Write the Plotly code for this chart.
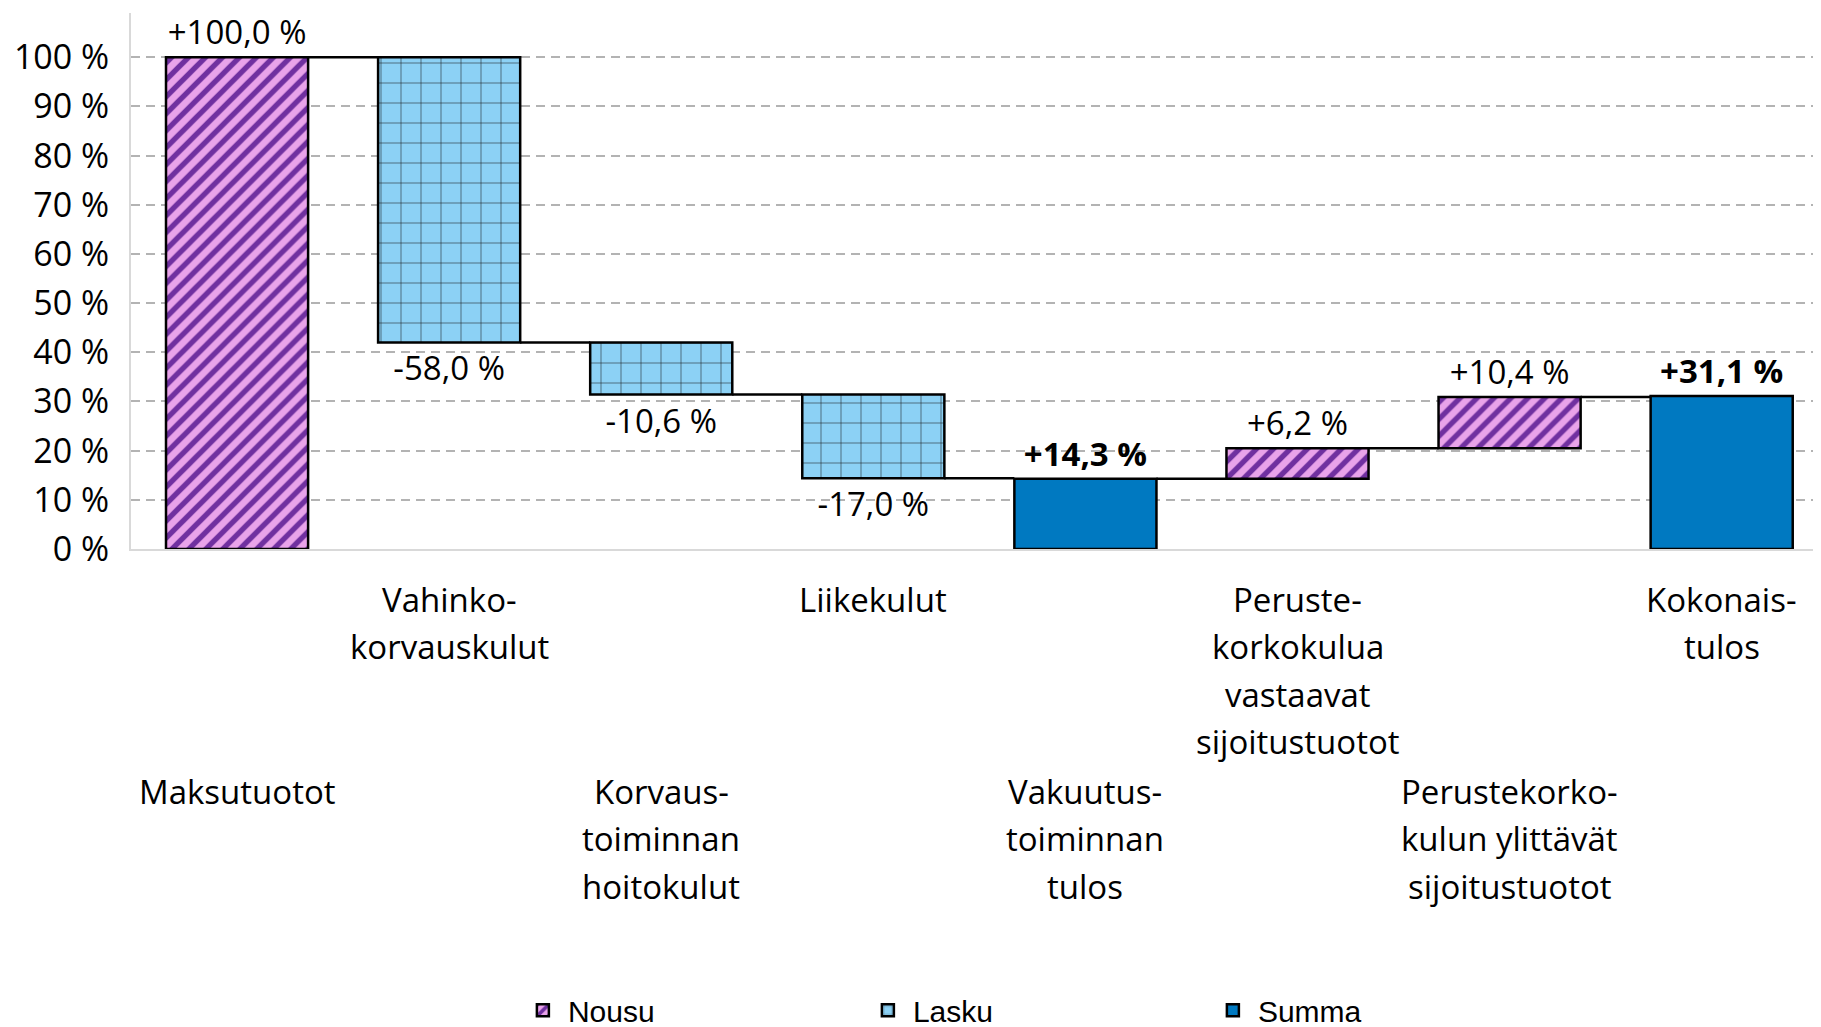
import plotly.graph_objects as go

# ---------------- data ----------------
categories = [
    "Maksutuotot",
    "Vahinko-<br>korvauskulut",
    "Korvaus-<br>toiminnan<br>hoitokulut",
    "Liikekulut",
    "Vakuutus-<br>toiminnan<br>tulos",
    "Peruste-<br>korkokulua<br>vastaavat<br>sijoitustuotot",
    "Perustekorko-<br>kulun ylittävät<br>sijoitustuotot",
    "Kokonais-<br>tulos",
]
values = [100.0, -58.0, -10.6, -17.0, 14.3, 6.2, 10.4, 31.1]
kinds = ["up", "down", "down", "down", "total", "up", "up", "total"]
series_names = {"up": "Nousu", "down": "Lasku", "total": "Summa"}
y_ticks = [0, 10, 20, 30, 40, 50, 60, 70, 80, 90, 100]
y_ticktext = [f"{t} %" for t in y_ticks]


def fi_label(v):
    s = f"{v:+.1f}".replace(".", ",")
    return s + " %"


# ---------------- running totals ----------------
bases, ends = [], []
run = 0.0
for v, k in zip(values, kinds):
    if k == "total":
        bases.append(0.0)
        run = v
    else:
        bases.append(run)
        run = run + v
    ends.append(run)

FONT = "Open Sans"
BAR_W = 0.67

styles = {
    "up": dict(color="#E9A3EA",
               pattern=dict(shape="/", bgcolor="#E9A3EA", fgcolor="#7030A0",
                            size=12, solidity=0.45, fillmode="replace")),
    "down": dict(color="#8CD1F5",
                 pattern=dict(shape="+", bgcolor="#8CD1F5", fgcolor="#111111",
                              fgopacity=0.85, size=20, solidity=0.06, fillmode="replace")),
    "total": dict(color="#0079C1"),
}

fig = go.Figure()
for k in ["up", "down", "total"]:
    idx = [i for i, kk in enumerate(kinds) if kk == k]
    txt = [fi_label(values[i]) for i in idx]
    if k == "total":
        txt = [f"<b>{t}</b>" for t in txt]
    fig.add_trace(go.Bar(
        name=series_names[k],
        x=idx,
        y=[values[i] for i in idx],
        base=[bases[i] for i in idx],
        width=BAR_W,
        marker=dict(line=dict(color="black", width=2.5), **styles[k]),
        text=txt,
        texttemplate="%{text}",
        textposition="outside",
        constraintext="none",
        cliponaxis=False,
        outsidetextfont=dict(family=FONT, size=33, color="black"),
        hoverinfo="skip",
    ))

# connectors
cx, cy = [], []
for i in range(len(values) - 1):
    cx += [i + BAR_W / 2, i + 1 - BAR_W / 2, None]
    cy += [ends[i], ends[i], None]
fig.add_trace(go.Scatter(x=cx, y=cy, mode="lines", line=dict(color="black", width=2.5),
                         showlegend=False, hoverinfo="skip", cliponaxis=False))

# category labels (staggered rows)
LINE = 47.6
annotations = []
for i, lab in enumerate(categories):
    first = 50 if i % 2 == 1 else 242
    for j, line in enumerate(lab.split("<br>")):
        annotations.append(dict(
            x=i, xref="x", y=0, yref="paper", yanchor="middle", xanchor="center",
            yshift=-(first + j * LINE), text=line, showarrow=False,
            font=dict(family=FONT, size=33, color="black"),
        ))

fig.update_layout(
    width=1821, height=1027,
    margin=dict(l=123, r=0, t=5, b=486),
    plot_bgcolor="white", paper_bgcolor="white",
    barmode="overlay",
    separators=", ",
    font=dict(family=FONT, size=33, color="black"),
    annotations=annotations,
    showlegend=True,
    legend=dict(orientation="h", xref="container", yref="container",
                x=0.28, y=0.024, xanchor="left", yanchor="middle",
                font=dict(family="Liberation Sans", size=30, color="black"),
                entrywidth=290, entrywidthmode="pixels", itemwidth=40,
                traceorder="normal"),
    xaxis=dict(range=[-0.5, 7.506], showticklabels=False, ticks="", showgrid=False,
               zeroline=False, showline=True, linecolor="#d9d9d9", linewidth=2),
    yaxis=dict(range=[0, 109], tickvals=y_ticks, ticktext=y_ticktext,
               tickfont=dict(family=FONT, size=34, color="black"),
               showgrid=True, gridcolor="#b3b3b3", gridwidth=2, griddash="9px,6px",
               zeroline=False, showline=True, linecolor="#d9d9d9", linewidth=2,
               ticks="", ticklabelstandoff=13),
)

fig.write_html("out.html")
